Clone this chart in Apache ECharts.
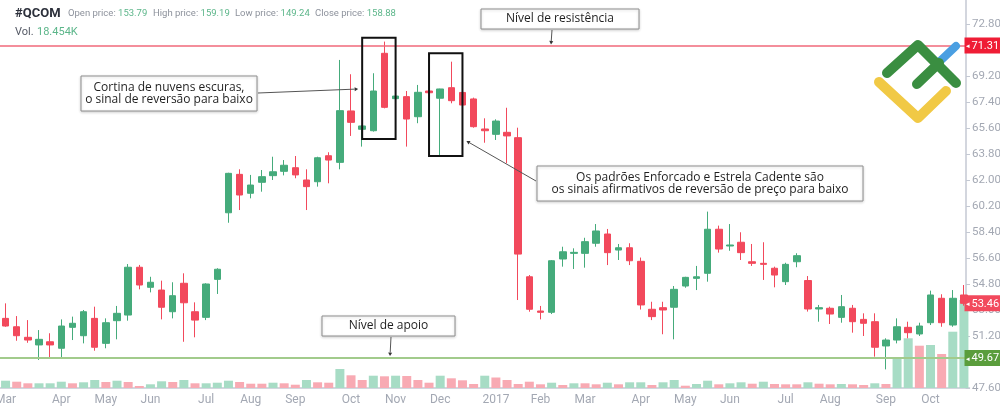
<!DOCTYPE html>
<html><head><meta charset="utf-8">
<script src="https://cdn.jsdelivr.net/npm/echarts@6/dist/echarts.min.js"></script>
<style>html,body{margin:0;padding:0;background:#fff}#c{width:1000px;height:411px}</style>
</head><body><div id="c"></div>
<script>
// ---------- DATA ----------
const dates = [
 '2016-03-03','2016-03-10','2016-03-17','2016-03-24','2016-03-31','2016-04-07','2016-04-14','2016-04-21','2016-04-28','2016-05-05',
 '2016-05-12','2016-05-19','2016-05-26','2016-06-02','2016-06-09','2016-06-16','2016-06-23','2016-06-30','2016-07-07','2016-07-14',
 '2016-07-21','2016-07-28','2016-08-04','2016-08-11','2016-08-18','2016-08-25','2016-09-01','2016-09-08','2016-09-15','2016-09-22',
 '2016-09-29','2016-10-06','2016-10-13','2016-10-20','2016-10-27','2016-11-03','2016-11-10','2016-11-17','2016-11-24','2016-12-01',
 '2016-12-08','2016-12-15','2016-12-22','2016-12-29','2017-01-05','2017-01-12','2017-01-19','2017-01-26','2017-02-02','2017-02-09',
 '2017-02-16','2017-02-23','2017-03-02','2017-03-09','2017-03-16','2017-03-23','2017-03-30','2017-04-06','2017-04-13','2017-04-20',
 '2017-04-27','2017-05-04','2017-05-11','2017-05-18','2017-05-25','2017-06-01','2017-06-08','2017-06-15','2017-06-22','2017-06-29',
 '2017-07-06','2017-07-13','2017-07-20','2017-07-27','2017-08-03','2017-08-10','2017-08-17','2017-08-24','2017-08-31','2017-09-07',
 '2017-09-14','2017-09-21','2017-09-28','2017-10-05','2017-10-12','2017-10-19','2017-10-26'];
const opens = [
 52.42,51.84,51.11,50.58,50.80,50.35,51.80,51.22,52.42,50.69,
 52.26,52.65,55.96,54.57,54.38,52.88,54.85,52.88,52.49,55.12,
 59.73,62.39,61.08,61.84,62.30,62.60,62.85,62.00,61.88,63.68,
 63.22,66.78,65.51,65.41,70.77,67.63,67.77,66.38,68.16,67.66,
 68.39,68.06,67.61,65.53,65.16,65.30,64.93,55.30,52.93,52.84,
 56.53,56.92,56.92,57.62,58.26,57.15,57.31,56.37,53.05,53.16,
 53.19,54.66,55.19,55.54,58.59,57.43,57.69,56.34,56.23,55.89,
 54.96,56.34,55.04,53.07,53.12,52.49,53.12,52.35,52.19,50.51,
 50.92,51.80,51.34,52.12,53.81,51.96,54.04];
const closes = [
 51.89,51.22,50.92,50.97,50.58,51.89,52.08,52.88,50.42,52.12,
 52.77,55.96,54.73,54.92,53.19,53.99,53.50,52.30,54.80,55.82,
 62.46,60.96,61.65,62.23,62.57,63.02,62.35,61.54,63.54,63.38,
 66.80,65.99,65.74,68.16,67.03,67.81,66.22,68.07,68.04,68.30,
 67.49,67.19,65.69,65.41,66.08,65.05,56.87,53.05,52.84,56.41,
 57.03,56.99,57.73,58.47,56.97,57.31,56.41,53.35,52.54,53.00,
 54.43,55.26,55.30,58.59,57.22,57.50,56.97,56.23,56.16,55.42,
 56.16,56.76,53.07,53.16,52.72,53.23,52.19,52.08,50.42,50.92,
 51.84,51.43,51.89,54.04,52.12,53.81,53.46];
const lows = [
 51.84,50.87,50.73,49.54,49.66,49.73,50.92,50.69,50.18,50.35,
 50.97,52.26,54.43,54.22,52.35,52.42,50.80,51.11,52.30,54.11,
 59.04,59.92,60.73,61.19,62.00,62.32,62.12,59.92,61.54,61.77,
 62.74,65.05,64.31,65.35,66.96,67.55,64.31,65.93,67.98,63.73,
 67.31,67.03,65.62,64.58,64.77,63.16,53.69,52.88,52.35,52.72,
 56.00,55.84,55.93,57.38,56.11,56.46,56.11,53.03,52.30,51.32,
 50.97,54.54,54.38,54.96,56.97,57.10,56.46,56.05,55.08,54.57,
 54.73,55.96,52.89,52.19,52.03,52.12,51.43,51.20,49.77,48.89,
 50.69,51.04,51.20,51.96,51.84,51.84,53.30];
const highs = [
 53.46,52.58,52.30,51.61,51.39,52.35,52.54,53.00,53.23,52.42,
 53.28,56.18,56.12,55.30,55.03,54.92,55.54,53.53,54.85,55.89,
 62.50,62.74,62.35,62.69,63.61,63.38,63.66,62.74,63.61,63.92,
 70.31,69.32,65.80,69.39,71.58,67.88,68.16,68.58,68.20,68.32,
 70.19,68.16,67.70,66.27,66.20,67.00,65.62,55.42,53.28,56.46,
 57.38,57.27,58.00,58.95,58.61,57.57,57.62,56.63,53.57,53.57,
 54.66,55.30,56.05,59.81,58.84,58.95,58.38,57.57,57.69,56.00,
 56.27,56.93,55.35,53.35,53.23,54.04,53.35,52.77,52.77,51.04,
 52.42,52.19,52.12,54.34,54.09,54.38,54.73];
const volumes = [
 7.3,6.3,4.7,4.7,4.7,6.3,4.7,5.7,8.0,6.0,
 7.3,6.0,2.0,3.7,6.7,6.0,8.0,4.7,4.7,5.3,
 7.3,6.0,4.3,4.3,5.3,4.7,3.3,8.0,5.7,5.3,
 19.0,12.7,8.0,12.3,11.7,12.3,12.0,8.0,5.3,12.3,
 9.7,7.7,4.0,12.3,10.5,8.0,4.0,6.3,3.7,5.3,
 3.0,4.7,4.7,3.7,5.3,3.7,5.7,5.7,3.0,5.7,
 8.0,2.3,4.0,7.3,3.7,4.7,5.7,4.3,6.3,4.0,
 3.7,3.7,5.7,4.3,3.7,4.0,3.7,3.0,4.7,4.0,
 29.7,49.7,42.3,43.0,34.0,56.3,88.0];
const volumeUp = [
 1,0,0,1,1,1,0,1,1,0, 1,0,0,1,1,0,1,0,1,1,
 1,0,0,0,1,0,0,1,0,0, 1,0,0,1,0,1,0,0,0,1,
 0,0,0,1,0,0,0,0,0,1, 0,1,0,0,1,0,1,1,0,1,
 1,0,1,1,0,1,1,0,1,0, 0,0,1,0,0,1,0,0,1,0,
 1,1,0,1,0,1,1];
const monthNames = ['Jan','Feb','Mar','Apr','May','Jun','Jul','Aug','Sep','Oct','Nov','Dec'];
const priceMin = 47.6, priceStep = 1.8, priceMax = 74.46;
const resistance = 71.31, support = 49.67, lastPrice = 53.46;
const header = {symbol:'#QCOM', open:'153.79', high:'159.19', low:'149.24', close:'158.88', vol:'18.454K'};

// ---------- CHART ----------
const GREEN='#45ab7b', RED='#f2495c', VGREEN='#a7dcc5', VRED='#f8aab3';
const AX='#c4c9d3', LBL='#a3a8b3';
const chart = echarts.init(document.getElementById('c'));
const isMonthStart = i => i===0 || dates[i].slice(5,7)!==dates[i-1].slice(5,7);
const monthLabel = d => { const m=+d.slice(5,7); return m===1 ? d.slice(0,4) : monthNames[m-1]; };
const candleData = dates.map((d,i)=>[opens[i],closes[i],lows[i],highs[i]]);
const volData = volumes.map((v,i)=>({value:v,itemStyle:{color:volumeUp[i]?VGREEN:VRED}}));
function boxLabel(bg){
  return {show:true,position:'end',distance:-5,formatter:p=>'{a|◂}{b|'+p.value.toFixed(2)+'}',
    backgroundColor:bg,padding:[3,2,2,1],opacity:1,
    rich:{a:{color:'#fff',fontSize:7,padding:[0,2,0,0]},b:{color:'#fff',fontSize:11,fontFamily:'Roboto'}}};
}
chart.setOption({
  animation:false,
  grid:[{left:0,right:30.5,top:0,height:388,outerBoundsMode:'none',containLabel:false},
        {left:0,right:30.5,top:288,height:100,outerBoundsMode:'none',containLabel:false}],
  xAxis:[{type:'category',data:dates,gridIndex:0,boundaryGap:true,
      axisLine:{lineStyle:{color:AX,width:1.5}},
      axisTick:{interval:i=>isMonthStart(i),alignWithLabel:true,length:3,lineStyle:{color:AX}},
      axisLabel:{interval:i=>isMonthStart(i),formatter:v=>monthLabel(v),color:LBL,fontSize:12,margin:6,fontFamily:'Roboto'},
      splitLine:{show:false}},
    {type:'category',data:dates,gridIndex:1,boundaryGap:true,show:false}],
  yAxis:[{type:'value',gridIndex:0,position:'right',offset:-3.5,min:priceMin,max:priceMax,interval:priceStep,
      axisLine:{show:true,lineStyle:{color:AX,width:1.5}},
      axisTick:{show:true,length:4,lineStyle:{color:AX}},
      axisLabel:{showMaxLabel:false,color:LBL,fontSize:11.5,margin:6,fontFamily:'Roboto',formatter:v=>v.toFixed(2)},
      splitLine:{show:false}},
    {type:'value',gridIndex:1,min:0,max:100,show:false,splitLine:{show:false}}],
  series:[
    {type:'bar',xAxisIndex:1,yAxisIndex:1,data:volData,barWidth:9,z:1,silent:true},
    {type:'candlestick',xAxisIndex:0,yAxisIndex:0,data:candleData,barWidth:7,z:3,
      itemStyle:{color:GREEN,color0:RED,borderColor:GREEN,borderColor0:RED,borderWidth:1},
      markLine:{symbol:['none','none'],silent:true,animation:false,
        data:[
          {yAxis:resistance,lineStyle:{color:'#f0687a',width:1.5,type:'solid'},label:boxLabel('#ef1d35')},
          {yAxis:support,lineStyle:{color:'#a2cb8c',width:2,type:'solid'},label:boxLabel('#5a9d3c')},
          {yAxis:lastPrice,lineStyle:{color:'rgba(0,0,0,0)',width:0},label:boxLabel('#f2495c')}
        ]}}
  ]
});

// ---------- ANNOTATIONS ----------
const px = (i,v)=>chart.convertToPixel({gridIndex:0},[i,v]);
const FONT='500 12px "Open Sans"';
function txt(x,y,text,font,fill,align,rich){
  const s={text:text,font:font,fill:fill,align:align||'left',verticalAlign:'middle',textAlign:align||'left',textVerticalAlign:'middle',lineHeight:12};
  if(rich) s.rich=rich;
  return {type:'text',x:x,y:y,z:100,style:s};
}
function box(x1,y1,x2,y2,text){
  return [{type:'rect',z:90,shape:{x:x1,y:y1,width:x2-x1,height:y2-y1},style:{fill:'#fff',stroke:'#8e8e8e',lineWidth:1,shadowBlur:3,shadowColor:'rgba(0,0,0,0.18)',shadowOffsetY:1}},
    txt((x1+x2)/2,(y1+y2)/2,text,FONT,'#1f1f1f','center')];
}
function arrow(p0,p1){
  const dx=p1[0]-p0[0], dy=p1[1]-p0[1], L=Math.hypot(dx,dy), ux=dx/L, uy=dy/L, s=3.5;
  const b=[p1[0]-ux*s,p1[1]-uy*s];
  return [{type:'line',z:95,shape:{x1:p0[0],y1:p0[1],x2:b[0],y2:b[1]},style:{stroke:'#555',lineWidth:1}},
    {type:'polygon',z:95,shape:{points:[p1,[b[0]-uy*2,b[1]+ux*2],[b[0]+uy*2,b[1]-ux*2]]},style:{fill:'#333'}}];
}
const r1a=px(32,71.85), r1b=px(35,64.84), r2a=px(38,70.77), r2b=px(41,63.66);
const resY=px(0,resistance)[1], supY=px(0,support)[1];
const g=[];
// header
const hr={l:{fontSize:9.5,fontFamily:'Roboto',fill:'#8d929c',color:'#8d929c'},v:{fontSize:9.5,fontFamily:'Roboto',fill:'#5cb68a',color:'#5cb68a'}};
g.push(txt(15,14,header.symbol,'bold 13px Roboto','#2c303b'));
g.push(txt(68,14,'{l|Open price:} {v|'+header.open+'}','9.5px Roboto','#8d929c','left',hr));
g.push(txt(153,14,'{l|High price:} {v|'+header.high+'}','9.5px Roboto','#8d929c','left',hr));
g.push(txt(235,14,'{l|Low price:} {v|'+header.low+'}','9.5px Roboto','#8d929c','left',hr));
g.push(txt(315,14,'{l|Close price:} {v|'+header.close+'}','9.5px Roboto','#8d929c','left',hr));
g.push(txt(15,32,'Vol.','11px Roboto','#555a66'), txt(37,32,header.vol,'11px Roboto','#5cb68a'));
// pattern rectangles
g.push({type:'rect',z:80,shape:{x:r1a[0],y:r1a[1],width:r1b[0]-r1a[0],height:r1b[1]-r1a[1]},style:{fill:null,stroke:'#111',lineWidth:2}});
g.push({type:'rect',z:80,shape:{x:r2a[0],y:r2a[1],width:r2b[0]-r2a[0],height:r2b[1]-r2a[1]},style:{fill:null,stroke:'#111',lineWidth:2}});
// boxes
g.push(...box(481,9,639,29,'Nível de resistência'));
g.push(...box(81,76,257,111,'Cortina de nuvens escuras,\no sinal de reversão para baixo'));
g.push(...box(537,166,863,201,'Os padrões Enforcado e Estrela Cadente são\nos sinais afirmativos de reversão de preço para baixo'));
g.push(...box(322,316,455,336,'Nível de apoio'));
// arrows
g.push(...arrow([552,30],[551,resY-1]));
g.push(...arrow([258,93],[r1a[0]-4,89]));
g.push(...arrow([536,181],[r2b[0]+4,141]));
g.push(...arrow([391,337],[390,supY-2]));
// logo
const lw={lineCap:'round',lineJoin:'round',fill:null};
g.push({type:'polyline',z:110,shape:{points:[[938,63],[956,46]]},style:Object.assign({stroke:'#4a9fe2',lineWidth:8},lw)});
g.push({type:'polyline',z:111,shape:{points:[[879,82],[918,118],[946,91]]},style:Object.assign({stroke:'#f1c945',lineWidth:10},lw)});
g.push({type:'polyline',z:112,shape:{points:[[887,73],[918,45],[956,83]]},style:Object.assign({stroke:'#3a8e41',lineWidth:10},lw)});
g.push({type:'polyline',z:112,shape:{points:[[917,84],[939,63]]},style:Object.assign({stroke:'#3a8e41',lineWidth:10},lw)});
chart.setOption({graphic:g});
</script></body></html>
